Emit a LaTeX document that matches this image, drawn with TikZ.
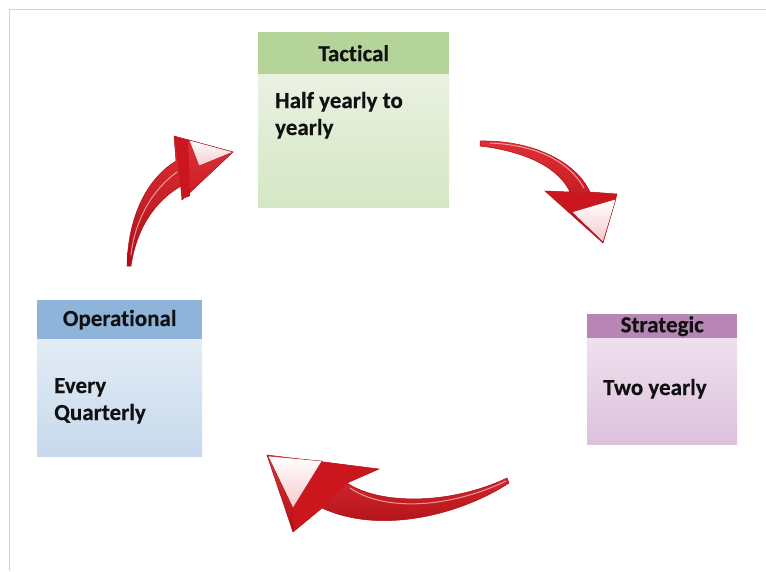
\documentclass[tikz,border=0pt]{standalone}
\usepackage{fontspec}
\setmainfont{Carlito}[Ligatures={NoCommon,NoRare}, BoldFeatures={FakeBold=0.4}]
\definecolor{tachdr}{HTML}{B4D49A}
\definecolor{tactop}{HTML}{EAF1E2}
\definecolor{tacbot}{HTML}{D4E7C4}
\definecolor{ophdr}{HTML}{8FB4DA}
\definecolor{optop}{HTML}{E3ECF5}
\definecolor{opbot}{HTML}{C6D9EC}
\definecolor{sthdr}{HTML}{B886B5}
\definecolor{sttop}{HTML}{EFE1EE}
\definecolor{stbot}{HTML}{DCC1DB}
\definecolor{arrred}{HTML}{DD1820}
\definecolor{arrdark}{HTML}{A80E14}
\definecolor{arrlight}{HTML}{F6C9CB}
\definecolor{framegray}{HTML}{D2D2D2}
\definecolor{txt}{HTML}{111111}
\tikzset{
  hdr/.style={draw=none, inner sep=0pt, anchor=north west, text=txt,
    font=\bfseries\fontsize{23}{27}\selectfont},
  bodybox/.style={draw=none, inner sep=0pt, anchor=north west},
  bodytext/.style={inner sep=0pt, anchor=base west, align=left, text=txt,
    font=\bfseries\fontsize{23}{27}\selectfont},
  arrowbody/.style={top color=arrred!90!white, bottom color=arrdark!90!arrred, draw=arrdark, line width=0.5pt},
  headband/.style={fill=arrred!92!black},
  headface/.style={top color=white, bottom color=arrlight, draw=arrdark, line width=0.4pt},
  shine/.style={draw=white, opacity=0.55, line width=1pt, line cap=round},
  framelines/.style={draw=framegray, line width=0.8pt}
}
\begin{document}
\begin{tikzpicture}[x=1pt,y=-1pt]
\useasboundingbox (0,0) rectangle (766,571);
\fill[white] (0,0) rectangle (766,571);
\draw[framelines] (9,571) -- (9,9) -- (766,9);

% Tactical
\node[bodybox, top color=tactop, bottom color=tacbot, minimum width=191pt, minimum height=133pt] (tacbody) at (258,74) {};
\node[hdr, fill=tachdr, minimum width=191pt, minimum height=42pt] (tac) at (258,32) {Tactical};
\node[bodytext] (tactxt) at (275,135) {Half yearly to\\yearly};

% Operational
\node[bodybox, top color=optop, bottom color=opbot, minimum width=165pt, minimum height=117pt] (opbody) at (37,339) {};
\node[hdr, fill=ophdr, minimum width=165pt, minimum height=39pt] (op) at (37,300) {Operational};
\node[bodytext] (optxt) at (54,420) {Every\\Quarterly};

% Strategic
\node[bodybox, top color=sttop, bottom color=stbot, minimum width=150pt, minimum height=106pt] (stbody) at (587,338) {};
\node[hdr, fill=sthdr, minimum width=150pt, minimum height=24pt] (st) at (587,314) {Strategic};
\node[bodytext] (sttxt) at (603,395) {Two yearly};

% Arrow 1: Operational -> Tactical
\path[arrowbody] (127,266) .. controls (128,215) and (148,178) .. (176,161)
  -- (174,136) -- (233,152) -- (182,200) -- (181,186)
  .. controls (152,203) and (136,232) .. (131,266) -- cycle;
\fill[headband] (174.5,137) -- (188,140) -- (190,196) -- (182,199) -- cycle;
\path[headface] (189,140) -- (233,152) -- (199,166) -- cycle;
\draw[shine] (131,255) .. controls (135,220) and (152,190) .. (177,172);

% Arrow 2: Tactical -> Strategic
\path[arrowbody] (480,141) .. controls (530,140) and (575,160) .. (590,192)
  -- (617,194) -- (603,243) -- (545,191) -- (570,192)
  .. controls (560,170) and (530,152) .. (480,146) -- cycle;
\fill[headband] (546,191.5) -- (616,194.5) -- (614,200) -- (571,211) -- cycle;
\path[headface] (572,212) -- (616,199) -- (603,242) -- cycle;
\draw[shine] (490,143) .. controls (535,145) and (568,160) .. (584,188);

% Arrow 3: Strategic -> Operational
\path[arrowbody] (267,455) -- (379,469) -- (347,483)
  .. controls (380,505) and (450,505) .. (507,478)
  -- (509,483) .. controls (460,515) and (380,535) .. (322,508)
  -- (293,532) -- cycle;
\fill[headband] (322,461.5) -- (378,469) -- (347,483) -- (322,508) -- (294,531) -- (293,508) -- cycle;
\path[headface] (268,456) -- (322,461) -- (293,508) -- cycle;
\draw[shine] (350,488) .. controls (385,512) and (450,508) .. (506,481);
\end{tikzpicture}
\end{document}
